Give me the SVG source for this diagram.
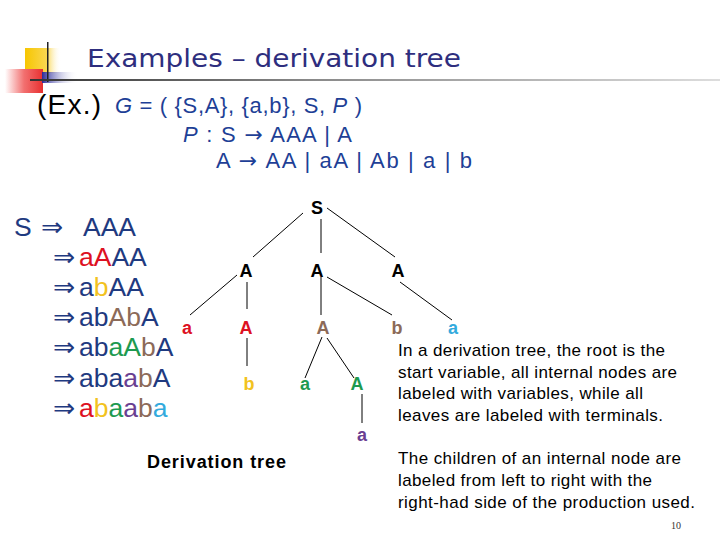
<svg xmlns="http://www.w3.org/2000/svg" width="720" height="540" viewBox="0 0 720 540">
<defs>
<linearGradient id="gy" x1="0" y1="0" x2="1" y2="0"><stop offset="0" stop-color="#F7C600"/><stop offset="0.6" stop-color="#F9D650"/><stop offset="1" stop-color="#FFFFFF" stop-opacity="0"/></linearGradient>
<linearGradient id="gr" x1="0" y1="0" x2="1" y2="0"><stop offset="0" stop-color="#FFFFFF"/><stop offset="0.5" stop-color="#F27070"/><stop offset="1" stop-color="#E83030"/></linearGradient>
<linearGradient id="gb" x1="0" y1="0" x2="1" y2="0"><stop offset="0" stop-color="#2A2A9A"/><stop offset="1" stop-color="#FFFFFF" stop-opacity="0"/></linearGradient>
<linearGradient id="gl" x1="0" y1="0" x2="1" y2="0"><stop offset="0" stop-color="#333333"/><stop offset="0.4" stop-color="#888888"/><stop offset="1" stop-color="#DDDDDD"/></linearGradient>
</defs>
<style>
.t{font-family:"Liberation Sans",Arial,sans-serif}
.n{font-family:"Liberation Sans",Arial,sans-serif;font-weight:bold;font-size:18px;text-anchor:middle}
.d{font-family:"Liberation Sans",Arial,sans-serif;font-size:26.5px;fill:#1F3A80}
.ar{font-family:"DejaVu Sans",sans-serif}
.g{font-family:"Liberation Sans",Arial,sans-serif;font-size:22px;fill:#1E3F96}
.p{font-family:"Liberation Sans",Arial,sans-serif;font-size:17px;fill:#000}
.e line{stroke:#000;stroke-width:1}
.k{fill:#000}.r{fill:#DD1122}.y{fill:#F2C220}.br{fill:#8C6A58}.gr{fill:#1E9A50}.pu{fill:#6A3F92}.cy{fill:#33AADD}.bl{fill:#1F3A80}
</style>
<rect width="720" height="540" fill="#FFFFFF"/>
<g id="logo">
<rect x="25" y="48" width="36" height="25" fill="url(#gy)"/>
<rect x="5" y="69" width="38" height="24" fill="url(#gr)"/>
<rect x="42" y="72" width="36" height="11" fill="url(#gb)"/>
<rect x="47" y="42" width="1.5" height="40" fill="#222"/>
<rect x="30" y="79" width="690" height="2" fill="url(#gl)"/>
</g>
<text x="87" y="67" font-family="DejaVu Sans,sans-serif" font-size="25.5" fill="#2E2E7E" textLength="374" lengthAdjust="spacingAndGlyphs">Examples – derivation tree</text>
<text class="t" x="37" y="114" font-size="28" fill="#000" textLength="64">(Ex.)</text>
<text class="g" x="115" y="113" textLength="247"><tspan font-style="italic">G</tspan> = ( {S,A}, {a,b}, S, <tspan font-style="italic">P</tspan> )</text>
<text class="g" x="183" y="142" textLength="169"><tspan font-style="italic">P</tspan> : S <tspan class="ar">→</tspan> AAA | A</text>
<text class="g" x="216" y="168" textLength="256">A <tspan class="ar">→</tspan>  AA | aA | Ab | a | b</text>
<g id="derivation">
<text class="d" x="14" y="236">S</text><text class="d ar" x="41" y="236" font-size="28">⇒</text><text class="d" x="83" y="236">AAA</text>
<g class="d ar" font-size="28">
<text x="53" y="266">⇒</text><text x="53" y="296">⇒</text><text x="53" y="326">⇒</text><text x="53" y="356">⇒</text><text x="53" y="387">⇒</text><text x="53" y="417">⇒</text>
</g>
<text class="d" x="79" y="266"><tspan class="r">aA</tspan>AA</text>
<text class="d" x="79" y="296">a<tspan class="y">b</tspan>AA</text>
<text class="d" x="79" y="326">ab<tspan class="br">Ab</tspan>A</text>
<text class="d" x="79" y="356">ab<tspan class="gr">aA</tspan><tspan class="br">b</tspan>A</text>
<text class="d" x="79" y="387">aba<tspan class="pu">a</tspan><tspan class="br">b</tspan>A</text>
<text class="d" x="79" y="417"><tspan class="r">a</tspan><tspan class="y">b</tspan><tspan class="gr">a</tspan><tspan class="pu">a</tspan><tspan class="br">b</tspan><tspan class="cy">a</tspan></text>
</g>
<g id="edges" class="e">
<line x1="303" y1="213" x2="253" y2="257"/>
<line x1="321" y1="219" x2="321" y2="253"/>
<line x1="327" y1="208" x2="395" y2="257"/>
<line x1="237" y1="275" x2="190" y2="315"/>
<line x1="247" y1="282" x2="247" y2="309"/>
<line x1="247" y1="338" x2="247" y2="366"/>
<line x1="321" y1="277" x2="321" y2="315"/>
<line x1="327" y1="277" x2="392" y2="315"/>
<line x1="400" y1="282" x2="452" y2="320"/>
<line x1="322" y1="337" x2="305" y2="378"/>
<line x1="327" y1="338" x2="354" y2="378"/>
<line x1="362" y1="394" x2="362" y2="423"/>
</g>
<g id="n-S"><text class="n k" x="317" y="214">S</text></g>
<g id="n-A1"><text class="n k" x="246" y="277">A</text></g>
<g id="n-A2"><text class="n k" x="317" y="277">A</text></g>
<g id="n-A3"><text class="n k" x="398" y="277">A</text></g>
<g id="n-a1"><text class="n r" x="187" y="334">a</text></g>
<g id="n-A4"><text class="n r" x="246" y="334">A</text></g>
<g id="n-A5"><text class="n br" x="323" y="334">A</text></g>
<g id="n-b1"><text class="n br" x="397" y="334">b</text></g>
<g id="n-a2"><text class="n cy" x="453" y="334">a</text></g>
<g id="n-b2"><text class="n y" x="249" y="390">b</text></g>
<g id="n-a3"><text class="n gr" x="305" y="390">a</text></g>
<g id="n-A6"><text class="n gr" x="357" y="390">A</text></g>
<g id="n-a4"><text class="n pu" x="362" y="441">a</text></g>
<text class="t" x="147" y="468" font-size="18" font-weight="bold" fill="#000" textLength="139">Derivation tree</text>
<text class="p" x="398" y="356" textLength="267">In a derivation tree, the root is the</text>
<text class="p" x="398" y="378" textLength="279">start variable, all internal nodes are</text>
<text class="p" x="398" y="399" textLength="245">labeled with variables, while all</text>
<text class="p" x="398" y="421" textLength="265">leaves are labeled with terminals.</text>
<text class="p" x="398" y="464" textLength="283">The children of an internal node are</text>
<text class="p" x="398" y="486" textLength="254">labeled from left to right with the</text>
<text class="p" x="398" y="508" textLength="297">right-had side of the production used.</text>
<text x="671" y="529" font-family="Liberation Serif,serif" font-size="10" fill="#333">10</text>
</svg>
